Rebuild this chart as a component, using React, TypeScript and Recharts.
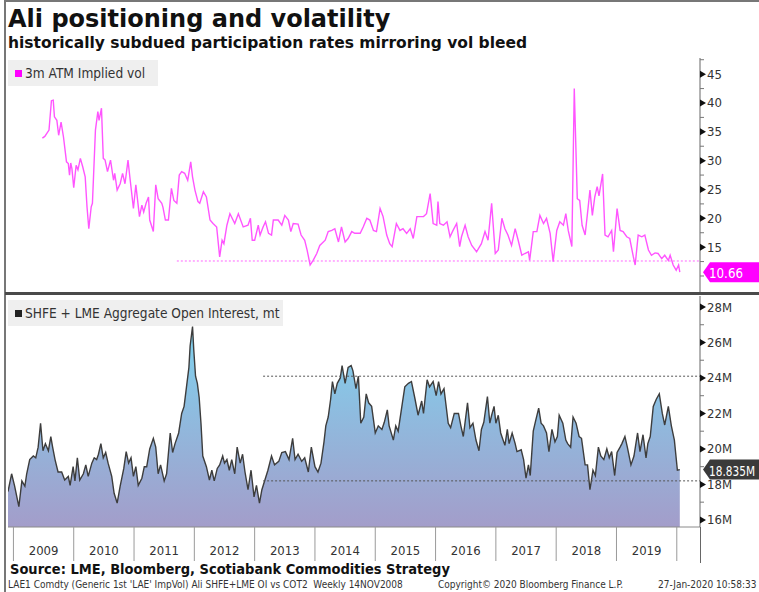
import React from "react";
import {
  LineChart,
  Line,
  AreaChart,
  Area,
  XAxis,
  YAxis,
  ReferenceLine,
} from "recharts";

// x is decimal year, shared by both panels
const X_MIN = 2008.91;
const X_MAX = 2020.385;
const yearTicks = [2009, 2010, 2011, 2012, 2013, 2014, 2015, 2016, 2017, 2018, 2019, 2020];
const yearLabels = ["2009", "2010", "2011", "2012", "2013", "2014", "2015", "2016", "2017", "2018", "2019"];

// 3m ATM implied vol
const volDates = [
  2009.48, 2009.52, 2009.59, 2009.63, 2009.66, 2009.68, 2009.72, 2009.75, 2009.79, 2009.83,
  2009.88, 2009.91, 2009.93, 2009.95, 2009.97, 2010.0, 2010.04, 2010.07, 2010.11, 2010.15,
  2010.19, 2010.22, 2010.25, 2010.29, 2010.31, 2010.36, 2010.4, 2010.42, 2010.46, 2010.49,
  2010.52, 2010.56, 2010.61, 2010.66, 2010.68, 2010.72, 2010.77, 2010.81, 2010.85, 2010.9,
  2010.93, 2010.99, 2011.03, 2011.09, 2011.13, 2011.16, 2011.2, 2011.24, 2011.26, 2011.32,
  2011.36, 2011.4, 2011.46, 2011.48, 2011.52, 2011.57, 2011.62, 2011.66, 2011.71, 2011.75,
  2011.79, 2011.84, 2011.89, 2011.94, 2011.97, 2012.01, 2012.06, 2012.09, 2012.15, 2012.2,
  2012.26, 2012.31, 2012.37, 2012.42, 2012.46, 2012.49, 2012.54, 2012.59, 2012.67, 2012.73,
  2012.81, 2012.89, 2012.93, 2012.96, 2013.0, 2013.06, 2013.09, 2013.14, 2013.18, 2013.23,
  2013.28, 2013.31, 2013.39, 2013.45, 2013.5, 2013.56, 2013.6, 2013.64, 2013.72, 2013.77,
  2013.83, 2013.87, 2013.92, 2013.97, 2014.03, 2014.08, 2014.17, 2014.22, 2014.28, 2014.33,
  2014.39, 2014.44, 2014.5, 2014.55, 2014.61, 2014.66, 2014.75, 2014.8, 2014.86, 2014.91,
  2014.97, 2015.02, 2015.08, 2015.13, 2015.19, 2015.24, 2015.28, 2015.35, 2015.41, 2015.46,
  2015.52, 2015.58, 2015.63, 2015.69, 2015.74, 2015.8, 2015.85, 2015.91, 2015.96, 2016.02,
  2016.04, 2016.07, 2016.13, 2016.19, 2016.24, 2016.29, 2016.35, 2016.4, 2016.43, 2016.49,
  2016.54, 2016.6, 2016.68, 2016.76, 2016.82, 2016.87, 2016.93, 2016.99, 2017.04, 2017.1,
  2017.15, 2017.2, 2017.26, 2017.32, 2017.37, 2017.43, 2017.48, 2017.54, 2017.56, 2017.62,
  2017.68, 2017.73, 2017.79, 2017.84, 2017.9, 2017.95, 2018.01, 2018.06, 2018.12, 2018.16,
  2018.2, 2018.26, 2018.3, 2018.35, 2018.39, 2018.43, 2018.48, 2018.53, 2018.56, 2018.6,
  2018.64, 2018.68, 2018.71, 2018.77, 2018.81, 2018.86, 2018.92, 2018.95, 2019.01, 2019.06,
  2019.11, 2019.17, 2019.22, 2019.28, 2019.31, 2019.36, 2019.42, 2019.47, 2019.53, 2019.58,
  2019.64, 2019.69, 2019.75, 2019.8, 2019.86, 2019.89, 2019.94, 2019.99, 2020.03, 2020.05,
];
const volValues = [
  33.9, 34.2, 35.3, 40.4, 40.5, 37.6, 37.0, 34.4, 36.7, 34.1,
  29.8, 29.5, 27.5, 29.6, 28.6, 25.3, 29.2, 28.4, 30.4, 28.9,
  27.2, 22.0, 18.2, 22.0, 22.6, 35.3, 38.5, 37.0, 39.1, 30.4,
  30.1, 28.1, 30.1, 26.6, 27.8, 24.9, 26.0, 27.8, 26.0, 30.1,
  27.2, 21.7, 25.8, 20.3, 22.3, 21.1, 22.6, 23.7, 19.7, 17.7,
  25.8, 23.4, 22.6, 21.9, 19.7, 19.7, 25.2, 23.1, 22.6, 27.5,
  28.1, 27.8, 26.6, 29.8, 27.2, 24.9, 22.9, 22.6, 24.6, 23.7,
  19.7, 19.1, 18.5, 13.3, 16.2, 15.6, 18.8, 20.8, 19.1, 20.8,
  18.5, 18.8, 20.0, 16.2, 16.2, 18.8, 17.1, 18.5, 19.4, 17.4,
  17.1, 19.7, 19.7, 18.8, 20.5, 19.7, 17.7, 19.1, 19.0, 17.1,
  16.2, 14.5, 11.9, 12.7, 13.9, 15.3, 16.2, 17.7, 17.9, 18.2,
  15.9, 18.5, 15.9, 16.5, 17.7, 17.4, 17.4, 18.5, 20.0, 19.7,
  17.9, 17.7, 21.7, 20.3, 17.1, 15.6, 15.1, 19.1, 17.9, 18.2,
  17.4, 18.2, 16.5, 20.3, 20.3, 20.3, 20.8, 24.3, 19.1, 18.8,
  22.9, 19.1, 18.8, 19.4, 16.8, 17.9, 19.1, 15.1, 16.8, 18.8,
  16.8, 15.3, 14.2, 15.6, 17.7, 16.2, 22.6, 13.9, 14.5, 20.0,
  18.2, 17.1, 15.3, 18.2, 16.2, 13.6, 13.9, 14.2, 12.7, 17.7,
  17.7, 20.5, 19.1, 20.0, 17.4, 12.5, 17.9, 19.4, 18.8, 20.8,
  17.9, 15.1, 42.5, 23.4, 23.1, 18.8, 17.1, 21.9, 24.9, 20.5,
  23.7, 25.5, 23.9, 27.7, 17.1, 16.8, 17.9, 14.2, 21.7, 17.9,
  17.7, 16.8, 16.5, 13.3, 11.9, 17.1, 16.8, 17.1, 14.5, 13.6,
  14.0, 13.9, 13.0, 13.6, 12.7, 13.6, 11.9, 11.0, 11.9, 10.66,
];

// SHFE + LME aggregate open interest, million t
const oiDates = [
  2008.91, 2008.97, 2009.02, 2009.09, 2009.14, 2009.19, 2009.22, 2009.27, 2009.33, 2009.37,
  2009.41, 2009.45, 2009.49, 2009.53, 2009.58, 2009.62, 2009.65, 2009.69, 2009.74, 2009.8,
  2009.85, 2009.91, 2009.94, 2009.99, 2010.02, 2010.06, 2010.1, 2010.16, 2010.2, 2010.24,
  2010.3, 2010.34, 2010.38, 2010.41, 2010.45, 2010.49, 2010.53, 2010.57, 2010.63, 2010.67,
  2010.72, 2010.77, 2010.83, 2010.87, 2010.91, 2010.95, 2010.99, 2011.03, 2011.07, 2011.13,
  2011.17, 2011.21, 2011.26, 2011.32, 2011.36, 2011.4, 2011.44, 2011.5, 2011.54, 2011.6,
  2011.64, 2011.68, 2011.74, 2011.79, 2011.83, 2011.87, 2011.91, 2011.93, 2011.97, 2011.99,
  2012.02, 2012.05, 2012.08, 2012.11, 2012.14, 2012.2, 2012.25, 2012.29, 2012.33, 2012.38,
  2012.42, 2012.47, 2012.5, 2012.54, 2012.58, 2012.62, 2012.67, 2012.71, 2012.76, 2012.8,
  2012.84, 2012.89, 2012.94, 2012.99, 2013.03, 2013.08, 2013.12, 2013.17, 2013.22, 2013.28,
  2013.33, 2013.4, 2013.45, 2013.51, 2013.57, 2013.63, 2013.67, 2013.72, 2013.78, 2013.83,
  2013.89, 2013.94, 2014.0, 2014.05, 2014.1, 2014.15, 2014.18, 2014.22, 2014.26, 2014.29,
  2014.33, 2014.37, 2014.42, 2014.45, 2014.5, 2014.55, 2014.6, 2014.63, 2014.68, 2014.72,
  2014.76, 2014.81, 2014.85, 2014.89, 2014.94, 2015.0, 2015.05, 2015.11, 2015.15, 2015.2,
  2015.23, 2015.3, 2015.34, 2015.38, 2015.45, 2015.49, 2015.55, 2015.6, 2015.66, 2015.71,
  2015.77, 2015.8, 2015.86, 2015.9, 2015.96, 2016.01, 2016.05, 2016.09, 2016.14, 2016.21,
  2016.25, 2016.31, 2016.38, 2016.42, 2016.46, 2016.53, 2016.57, 2016.62, 2016.67, 2016.72,
  2016.76, 2016.8, 2016.86, 2016.9, 2016.93, 2016.97, 2017.0, 2017.04, 2017.08, 2017.15,
  2017.19, 2017.22, 2017.27, 2017.32, 2017.35, 2017.42, 2017.46, 2017.5, 2017.54, 2017.57,
  2017.62, 2017.66, 2017.71, 2017.75, 2017.79, 2017.84, 2017.88, 2017.93, 2017.98, 2018.02,
  2018.05, 2018.11, 2018.16, 2018.19, 2018.24, 2018.28, 2018.33, 2018.38, 2018.42, 2018.48,
  2018.52, 2018.56, 2018.61, 2018.65, 2018.7, 2018.74, 2018.79, 2018.84, 2018.88, 2018.92,
  2018.97, 2019.01, 2019.06, 2019.09, 2019.14, 2019.18, 2019.24, 2019.29, 2019.35, 2019.39,
  2019.44, 2019.49, 2019.52, 2019.56, 2019.61, 2019.66, 2019.71, 2019.76, 2019.8, 2019.86,
  2019.91, 2019.96, 2020.01, 2020.05,
];
const oiValues = [
  17.6, 18.6, 17.9, 16.75, 18.2, 17.9, 18.6, 19.4, 19.6, 19.5,
  20.1, 21.45, 19.9, 20.3, 19.9, 20.7, 20.1, 19.4, 18.7, 18.7,
  18.25, 18.45, 17.95, 19.0, 18.2, 19.5, 18.25, 18.6, 19.1, 18.45,
  19.2, 19.5, 19.4, 19.7, 20.3, 19.5, 19.8, 19.2, 18.45, 17.5,
  16.95, 17.9, 18.9, 19.85, 19.2, 19.5, 18.45, 19.0, 17.95, 18.35,
  19.0, 19.0, 20.0, 20.6, 20.1, 18.6, 19.1, 18.2, 18.6, 20.9,
  19.8, 20.3, 20.9, 22.0, 22.4, 23.5, 24.6, 25.8, 26.9, 25.6,
  24.1, 23.7, 22.9, 21.45, 19.6, 19.0, 18.25, 18.8, 18.2, 18.9,
  19.1, 19.6, 19.2, 19.4, 18.8, 19.4, 18.6, 20.1, 19.2, 19.7,
  18.7, 17.7, 18.8, 17.3, 17.95, 16.95, 17.7, 18.25, 18.8, 19.6,
  19.1, 19.3, 19.8, 19.85, 19.4, 20.6, 19.4, 19.7, 19.3, 19.5,
  18.7, 20.1, 19.0, 18.7, 19.2, 20.4, 21.3, 21.8, 22.8, 23.8,
  23.1, 23.7, 24.0, 24.7, 23.7, 24.6, 24.7, 24.4, 23.4, 24.1,
  21.45, 21.8, 23.1, 22.6, 22.4, 20.9, 21.3, 21.1, 21.5, 22.2,
  21.3, 20.5, 21.3, 21.0, 22.6, 23.5, 23.7, 23.8, 22.8, 21.9,
  22.7, 22.0, 23.9, 23.5, 23.8, 23.0, 23.8, 23.1, 23.4, 21.45,
  21.2, 22.0, 22.0, 21.3, 20.7, 22.6, 21.2, 21.45, 20.5, 19.9,
  21.1, 21.5, 22.95, 21.45, 21.9, 22.4, 21.45, 21.9, 20.9, 20.2,
  21.1, 20.3, 20.9, 20.3, 19.85, 19.95, 19.4, 18.35, 19.1, 18.5,
  21.0, 21.6, 22.3, 21.45, 21.3, 20.9, 19.85, 21.1, 20.4, 20.7,
  21.9, 21.45, 20.5, 20.3, 20.1, 21.8, 21.45, 20.7, 20.6, 19.1,
  19.1, 17.7, 18.8, 18.5, 20.1, 19.6, 19.4, 20.0, 19.5, 19.85,
  18.5, 19.8, 20.1, 20.3, 20.7, 20.1, 19.1, 19.6, 20.9, 19.85,
  20.8, 19.5, 20.3, 20.7, 22.4, 22.8, 23.1, 22.0, 21.35, 22.4,
  21.3, 20.5, 18.8, 18.835,
];

const volMajor = [15, 20, 25, 30, 35, 40, 45];
const volMinor = [10, 12.5, 17.5, 22.5, 27.5, 32.5, 37.5, 42.5, 47.5];
const oiMajor = [16, 18, 20, 22, 24, 26, 28];
const oiMinor = [17, 19, 21, 23, 25, 27];

const volFloor = 12.6;
const oiHigh = 24.1;
const oiLow = 18.2;
const levelStart = 2013.14;
const volLevelStart = 2011.71;

const volData = volDates.map((t, i) => ({ t, v: volValues[i] }));
const oiData = oiDates.map((t, i) => ({ t, v: oiValues[i] }));
const lastVol = volValues[volValues.length - 1];
const lastOi = oiValues[oiValues.length - 1];

const UI_FONT = "'DejaVu Sans Condensed', 'Liberation Sans', sans-serif";
const HEAD_FONT = "'DejaVu Sans', Verdana, sans-serif";
const PLOT_W = 692;
const YEAR_PX = PLOT_W / (X_MAX - X_MIN);

function axisTick(majors: number[], fmt: (v: number) => string) {
  return function Tick({ x, y, payload }: any) {
    const v = payload.value;
    if (majors.includes(v)) {
      return (
        <g>
          <polygon points={`${x},${y - 3.5} ${x + 6},${y} ${x},${y + 3.5}`} fill="#111" />
          <text x={x + 7} y={y} dominantBaseline="central" fontSize={13} fill="#333" fontFamily={UI_FONT}>
            {fmt(v)}
          </text>
        </g>
      );
    }
    return <line x1={x} x2={x + 4} y1={y} y2={y} stroke="#777" />;
  };
}

function YearTick({ x, y, payload }: any) {
  const i = yearTicks.indexOf(payload.value);
  return (
    <g>
      <line x1={x} x2={x} y1={y} y2={y + 34} stroke="#9a9a9a" />
      {i >= 0 && i < yearLabels.length && (
        <text x={x + YEAR_PX / 2} y={y + 28} textAnchor="middle" fontSize={13} fill="#333" fontFamily={UI_FONT}>
          {yearLabels[i]}
        </text>
      )}
    </g>
  );
}

function ValueTag({ viewBox, text, fill, fit }: any) {
  const x = viewBox.x + viewBox.width;
  const y = viewBox.y;
  return (
    <g>
      <polygon
        points={`${x + 3},${y} ${x + 10},${y - 10} 759,${y - 10} 759,${y + 10} ${x + 10},${y + 10}`}
        fill={fill}
      />
      <text
        x={x + 9}
        y={y + 1}
        dominantBaseline="central"
        fontSize={14}
        fill="#fff"
        fontFamily={UI_FONT}
        textLength={fit}
        lengthAdjust="spacingAndGlyphs"
      >
        {text}
      </text>
    </g>
  );
}

const VolTick = axisTick(volMajor, (v) => String(v));
const OiTick = axisTick(oiMajor, (v) => `${v}M`);

function LegendBox({ left, top, width, color, label }: any) {
  return (
    <div
      style={{
        position: "absolute",
        left,
        top,
        width,
        height: 26,
        background: "#efefef",
        fontFamily: UI_FONT,
        fontSize: 13.6,
        color: "#333",
        display: "flex",
        alignItems: "center",
        whiteSpace: "nowrap",
      }}
    >
      <span style={{ width: 7, height: 7, background: color, marginLeft: 7, marginRight: 3 }} />
      {label}
    </div>
  );
}

export default function App() {
  return (
    <div
      style={{
        position: "absolute",
        left: 0,
        top: 0,
        width: 759,
        height: 592,
        background: "#fff",
        overflow: "hidden",
      }}
    >
      <div style={{ position: "absolute", left: 4, top: 0, width: 755, height: 592, borderLeft: "2px solid #777", borderTop: "2px solid #777" }} />
      <div style={{ position: "absolute", left: 8, top: 5, fontFamily: HEAD_FONT, fontWeight: 700, fontSize: 24, color: "#111", whiteSpace: "nowrap" }}>
        Ali positioning and volatility
      </div>
      <div style={{ position: "absolute", left: 8, top: 34, fontFamily: HEAD_FONT, fontWeight: 700, fontSize: 15.5, color: "#111", whiteSpace: "nowrap" }}>
        historically subdued participation rates mirroring vol bleed
      </div>

      <div style={{ position: "absolute", left: 0, top: 56 }}>
        <LineChart width={759} height={239} data={volData} margin={{ top: 2, right: 0, bottom: 2, left: 8 }}>
          <XAxis dataKey="t" type="number" domain={[X_MIN, X_MAX]} allowDataOverflow hide />
          <YAxis
            orientation="right"
            width={59}
            domain={[7.05, 47.8]}
            allowDataOverflow
            ticks={[...volMajor, ...volMinor]}
            interval={0}
            tick={<VolTick />}
            tickSize={0}
            tickMargin={0}
            tickLine={false}
            axisLine={{ stroke: "#666" }}
          />
          <ReferenceLine
            segment={[
              { x: volLevelStart, y: volFloor },
              { x: X_MAX, y: volFloor },
            ]}
            stroke="#ff66ff"
            strokeDasharray="2 2"
          />
          <ReferenceLine y={lastVol} stroke="none" label={<ValueTag text={lastVol.toFixed(2)} fill="#ff00ff" fit={34} />} />
          <Line type="linear" dataKey="v" stroke="#ff55ff" strokeWidth={1.4} dot={false} isAnimationActive={false} />
        </LineChart>
      </div>

      <div style={{ position: "absolute", left: 5, top: 292, width: 754, height: 3, background: "#4a4a4a" }} />

      <div style={{ position: "absolute", left: 0, top: 294 }}>
        <AreaChart width={759} height={271} data={oiData} margin={{ top: 2, right: 0, bottom: 0, left: 8 }}>
          <defs>
            <linearGradient id="oiFill" x1="0" y1="0" x2="0" y2="1">
              <stop offset="0%" stopColor="#7fd3ef" />
              <stop offset="100%" stopColor="#a39dca" />
            </linearGradient>
          </defs>
          <XAxis
            dataKey="t"
            type="number"
            domain={[X_MIN, X_MAX]}
            allowDataOverflow
            ticks={yearTicks}
            interval={0}
            height={38}
            tick={<YearTick />}
            tickSize={0}
            tickMargin={0}
            tickLine={false}
            axisLine={{ stroke: "#8a8a8a" }}
          />
          <YAxis
            orientation="right"
            width={59}
            domain={[15.6, 28.62]}
            allowDataOverflow
            ticks={[...oiMajor, ...oiMinor]}
            interval={0}
            tick={<OiTick />}
            tickSize={0}
            tickMargin={0}
            tickLine={false}
            axisLine={{ stroke: "#666" }}
          />
          <Area
            type="linear"
            dataKey="v"
            stroke="#3d3d3d"
            strokeWidth={1.4}
            fill="url(#oiFill)"
            fillOpacity={1}
            isAnimationActive={false}
          />
          <ReferenceLine
            segment={[
              { x: levelStart, y: oiHigh },
              { x: X_MAX, y: oiHigh },
            ]}
            stroke="#555"
            strokeDasharray="2 2"
          />
          <ReferenceLine
            segment={[
              { x: levelStart, y: oiLow },
              { x: X_MAX, y: oiLow },
            ]}
            stroke="#555"
            strokeDasharray="2 2"
          />
          <ReferenceLine y={lastOi} stroke="none" label={<ValueTag text={`${lastOi}M`} fill="#3a3a3a" fit={46} />} />
        </AreaChart>
      </div>
      <div style={{ position: "absolute", left: 700, top: 527, width: 1, height: 36, background: "#666" }} />

      <LegendBox left={8} top={60} width={150} color="#ff00ff" label="3m ATM Implied vol" />
      <LegendBox left={8} top={300} width={275} color="#222" label="SHFE + LME Aggregate Open Interest, mt" />

      <div style={{ position: "absolute", left: 10, top: 561, fontFamily: UI_FONT, fontWeight: 700, fontSize: 14.5, color: "#111", whiteSpace: "nowrap" }}>
        Source: LME, Bloomberg, Scotiabank Commodities Strategy
      </div>
      <div style={{ position: "absolute", left: 8, top: 579, width: 751, fontFamily: UI_FONT, fontSize: 10, color: "#333", whiteSpace: "nowrap" }}>
        <span style={{ position: "absolute", left: 0 }}>LAE1 Comdty (Generic 1st 'LAE' ImpVol) Ali SHFE+LME OI vs COT2&nbsp;&nbsp;Weekly 14NOV2008</span>
        <span style={{ position: "absolute", left: 430 }}>Copyright© 2020 Bloomberg Finance L.P.</span>
        <span style={{ position: "absolute", left: 650 }}>27-Jan-2020 10:58:33</span>
      </div>
    </div>
  );
}
